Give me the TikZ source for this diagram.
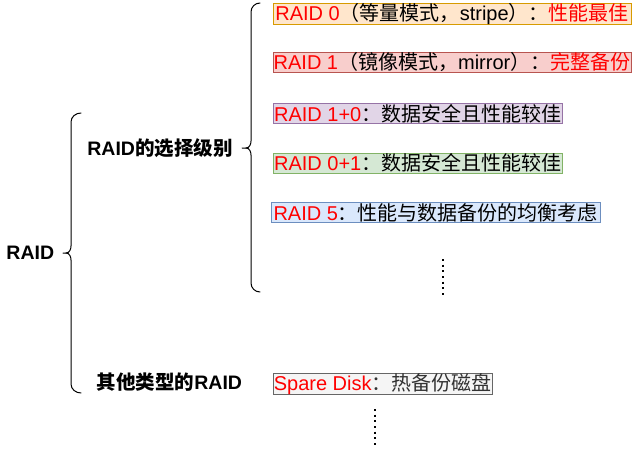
\documentclass[tikz,border=0pt]{standalone}
\usepackage{fontspec}
\setmainfont{Liberation Sans}
\newfontfamily\cjk{Noto Sans CJK SC}
\newcommand\zhc[1]{{\cjk #1}}
\definecolor{o1}{HTML}{FFE6CC}\definecolor{o2}{HTML}{D79B00}
\definecolor{r1}{HTML}{F8CECC}\definecolor{r2}{HTML}{B85450}
\definecolor{p1}{HTML}{E1D5E7}\definecolor{p2}{HTML}{9673A6}
\definecolor{g1}{HTML}{D5E8D4}\definecolor{g2}{HTML}{82B366}
\definecolor{b1}{HTML}{DAE8FC}\definecolor{b2}{HTML}{6C8EBF}
\definecolor{s1}{HTML}{F5F5F5}\definecolor{s2}{HTML}{666666}
\definecolor{tx}{HTML}{333333}
\definecolor{rd}{HTML}{FF0000}
\begin{document}
\begin{tikzpicture}[x=1pt,y=-1pt,
  lvbox/.style={anchor=north west,inner sep=0pt,minimum height=20pt,line width=1pt,
    font=\fontsize{20pt}{22pt}\selectfont},
  lbl/.style={inner sep=0pt,font=\fontsize{19.5pt}{21pt}\selectfont\bfseries},
  brace/.style={line width=1pt,line cap=round},
  vdots/.style={line width=2pt,dash pattern=on 2pt off 3.67pt}]
\useasboundingbox (0,0) rectangle (634,450);

% labels
\node[lbl] (raid) at (30.3,253) {RAID};
\node[lbl] (sel) at (160,148) {RAID\zhc{\bfseries 的选择级别}};
\node[lbl] (oth) at (169.5,382.5) {\zhc{\bfseries 其他类型的}RAID};

% braces
\draw[brace] (81,113) to[out=180,in=90] (71,122) -- (71,246)
  to[out=-90,in=0] (66,253) -- (63,253);
\draw[brace] (66,253) to[out=0,in=90] (71,260) -- (71,384) to[out=-90,in=180] (81,393);
\draw[brace] (260,3) to[out=180,in=90] (251,12) -- (251,141)
  to[out=-90,in=0] (246,148) -- (242,148);
\draw[brace] (246,148) to[out=0,in=90] (251,155) -- (251,283) to[out=-90,in=180] (260,292);

% boxes
\node[lvbox,draw=o2,fill=o1,minimum width=358pt] (r0) at (272.5,3)
  {\textcolor{rd}{RAID 0}\zhc{（等量模式，}stripe\zhc{）：\textcolor{rd}{性能最佳}}};
\node[lvbox,draw=r2,fill=r1,minimum width=358pt] (r1) at (272.5,52)
  {\textcolor{rd}{RAID 1}\zhc{（镜像模式，}mirror\zhc{）：\textcolor{rd}{完整备份}}};
\node[lvbox,draw=p2,fill=p1,minimum width=289.5pt] (r10) at (272.5,103)
  {\textcolor{rd}{RAID 1+0}\zhc{：数据安全且性能较佳}};
\node[lvbox,draw=g2,fill=g1,minimum width=289.5pt] (r01) at (272.5,152.5)
  {\textcolor{rd}{RAID 0+1}\zhc{：数据安全且性能较佳}};
\node[lvbox,draw=b2,fill=b1,minimum width=329.5pt] (r5) at (270.5,202)
  {\textcolor{rd}{RAID 5}\zhc{：性能与数据备份的均衡考虑}};
\node[lvbox,draw=s2,fill=s1,minimum width=219.5pt,text=tx] (sp) at (272.5,373)
  {\textcolor{rd}{Spare Disk}\zhc{：热备份磁盘}};

% dots
\coordinate (d1a) at (443,259); \coordinate (d1b) at (443,295);
\draw[vdots] (d1a) -- (d1b);
\coordinate (d2a) at (375,409); \coordinate (d2b) at (375,445);
\draw[vdots] (d2a) -- (d2b);
\end{tikzpicture}
\end{document}
